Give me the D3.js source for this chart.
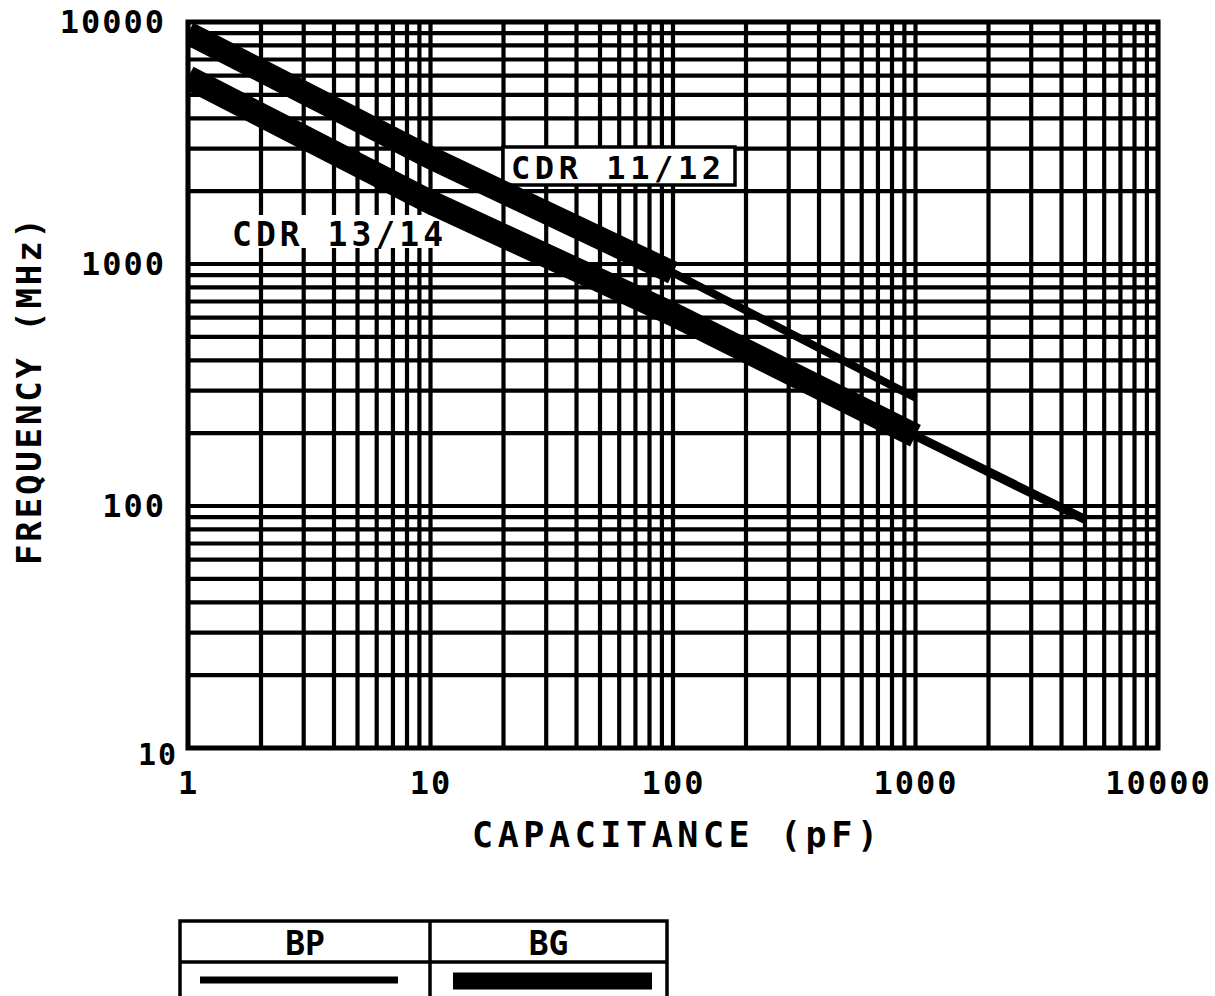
<!DOCTYPE html>
<html>
<head>
<meta charset="utf-8">
<script src="https://cdn.jsdelivr.net/npm/d3@7"></script>
<style>
  body { margin: 0; background: #fff; }
  text { font-family: "DejaVu Sans Mono", monospace; font-weight: bold; fill: #000; }
</style>
</head>
<body>
<div id="container"></div>
<script>
// axis ticks
var xTicks = [1, 10, 100, 1000, 10000];
var yTicks = [10, 100, 1000, 10000];

// CDR 11/12
var cdr1112BGCap = [1, 10, 100];
var cdr1112BGFreq = [9000, 2750, 920];
var cdr1112BPCap = [100, 1000];
var cdr1112BPFreq = [920, 280];

// CDR 13/14
var cdr1314BGCap = [1, 10, 100, 1000];
var cdr1314BGFreq = [5900, 1800, 620, 195];
var cdr1314BPCap = [1000, 5000];
var cdr1314BPFreq = [195, 88];

var legendLabels = ["BP", "BG"];

var W = 1215, H = 996;
var margin = {top: 22, right: 57, bottom: 248, left: 188},
    width = W - margin.left - margin.right,
    height = H - margin.top - margin.bottom;

var svg = d3.select("#container")
  .append("svg")
    .attr("width", W)
    .attr("height", H);

svg.append("defs").append("clipPath")
    .attr("id", "plot-clip")
  .append("rect")
    .attr("width", width)
    .attr("height", height);

var g = svg.append("g")
    .attr("transform", "translate(" + margin.left + "," + margin.top + ")");

var x = d3.scaleLog().domain([1, 10000]).range([0, width]);
var y = d3.scaleLog().domain([10, 10000]).range([height, 0]);

// grid
g.append("g").selectAll("line")
  .data(x.ticks())
  .join("line")
    .attr("x1", function(d) { return x(d); })
    .attr("x2", function(d) { return x(d); })
    .attr("y1", 0)
    .attr("y2", height)
    .attr("stroke", "#000")
    .attr("stroke-width", 4.2);

g.append("g").selectAll("line")
  .data(y.ticks())
  .join("line")
    .attr("y1", function(d) { return y(d); })
    .attr("y2", function(d) { return y(d); })
    .attr("x1", 0)
    .attr("x2", width)
    .attr("stroke", "#000")
    .attr("stroke-width", 4.2);

g.append("rect")
  .attr("width", width)
  .attr("height", height)
  .attr("fill", "none")
  .attr("stroke", "#000")
  .attr("stroke-width", 5);

// axes
var xAxis = g.append("g")
  .attr("transform", "translate(0," + height + ")")
  .call(d3.axisBottom(x).tickValues(xTicks).tickFormat(d3.format("d")).tickSize(0).tickPadding(23));
var yAxis = g.append("g")
  .call(d3.axisLeft(y).tickValues(yTicks).tickFormat(d3.format("d")).tickSize(0).tickPadding(22));
[xAxis, yAxis].forEach(function(a) {
  a.select(".domain").remove();
  a.selectAll("text")
    .attr("fill", "#000")
    .style("font-family", "'DejaVu Sans Mono', monospace")
    .style("font-weight", "bold")
    .style("font-size", "32px")
    .style("letter-spacing", "2px");
});
yAxis.selectAll(".tick").filter(function(d) { return d === 10; })
  .select("text").attr("dy", "0.55em").attr("x", -10).style("font-size", "30px");

// label boxes (behind the lines)
g.append("rect")
  .attr("x", 503 - margin.left).attr("y", 147 - margin.top)
  .attr("width", 232).attr("height", 38)
  .attr("fill", "#fff").attr("stroke", "#000").attr("stroke-width", 3.5);
g.append("rect")
  .attr("x", 226 - margin.left).attr("y", 215 - margin.top)
  .attr("width", 218).attr("height", 33)
  .attr("fill", "#fff");

// lines
var line = d3.line()
  .x(function(d) { return x(d[0]); })
  .y(function(d) { return y(d[1]); });

var lines = g.append("g").attr("clip-path", "url(#plot-clip)");
function drawSeries(caps, freqs, w) {
  lines.append("path")
    .datum(d3.zip(caps, freqs))
    .attr("fill", "none")
    .attr("stroke", "#000")
    .attr("stroke-width", w)
    .attr("d", line);
}
drawSeries(cdr1112BGCap, cdr1112BGFreq, 23);
drawSeries(cdr1112BPCap, cdr1112BPFreq, 8);
drawSeries(cdr1314BGCap, cdr1314BGFreq, 24);
drawSeries(cdr1314BPCap, cdr1314BPFreq, 9);

// series labels
g.append("text")
  .attr("x", 511 - margin.left).attr("y", 179 - margin.top)
  .attr("textLength", 210).attr("lengthAdjust", "spacing")
  .style("font-size", "32px")
  .text("CDR 11/12");
g.append("text")
  .attr("x", 232 - margin.left).attr("y", 246 - margin.top)
  .attr("textLength", 211).attr("lengthAdjust", "spacing")
  .style("font-size", "33px")
  .text("CDR 13/14");

// axis titles
svg.append("text")
  .attr("x", 472).attr("y", 847)
  .attr("textLength", 406).attr("lengthAdjust", "spacing")
  .style("font-size", "35px")
  .text("CAPACITANCE (pF)");
svg.append("text")
  .attr("transform", "translate(41,565) rotate(-90)")
  .attr("textLength", 347).attr("lengthAdjust", "spacing")
  .style("font-size", "34px")
  .text("FREQUENCY (MHz)");

// legend table
var leg = svg.append("g");
var lx0 = 180, lx1 = 430, lx2 = 667, ly0 = 921, ly1 = 962;
leg.append("path")
  .attr("d", "M" + lx0 + "," + (H + 5) + "V" + ly0 + "H" + lx2 + "V" + (H + 5)
    + "M" + lx1 + "," + ly0 + "V" + (H + 5)
    + "M" + lx0 + "," + ly1 + "H" + lx2)
  .attr("fill", "none")
  .attr("stroke", "#000")
  .attr("stroke-width", 3.5);
leg.selectAll("text.lab")
  .data(legendLabels)
  .join("text")
    .attr("class", "lab")
    .attr("x", function(d, i) { return i === 0 ? (lx0 + lx1) / 2 : (lx1 + lx2) / 2; })
    .attr("y", 955)
    .attr("text-anchor", "middle")
    .style("font-size", "33px")
    .text(function(d) { return d; });
leg.append("line")
  .attr("x1", 200).attr("x2", 398).attr("y1", 980).attr("y2", 980)
  .attr("stroke", "#000").attr("stroke-width", 7);
leg.append("line")
  .attr("x1", 453).attr("x2", 652).attr("y1", 981).attr("y2", 981)
  .attr("stroke", "#000").attr("stroke-width", 17);
</script>
</body>
</html>
